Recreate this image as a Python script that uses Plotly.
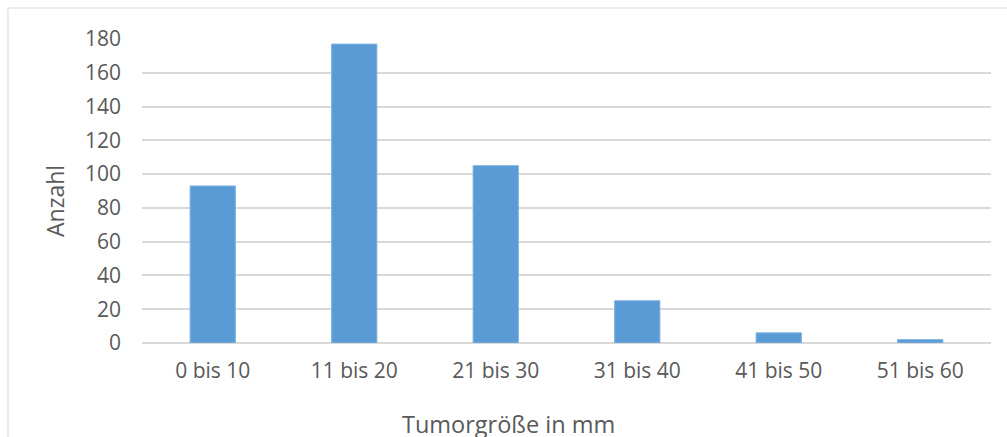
import plotly.graph_objects as go

# Tumour size classes and number of cases per class
categories = ["0 bis 10", "11 bis 20", "21 bis 30", "31 bis 40", "41 bis 50", "51 bis 60"]
counts = [93, 177, 105, 25, 6, 2]
y_ticks = [0, 20, 40, 60, 80, 100, 120, 140, 160, 180]

W, H = 1007, 437
ML, MR, MT, MB = 142, 16, 39, 94
PW, PH = W - ML - MR, H - MT - MB

TEXT = "#595959"
GRID = "#d9d9d9"
FONT = "Open Sans"


def px_x(px):
    return (px - ML) / PW


def px_y(py):
    return 1 - (py - MT) / PH


fig = go.Figure(
    go.Bar(
        x=categories,
        y=counts,
        marker=dict(color="#5b9bd5", line=dict(color="#7fb1e0", width=1)),
        width=0.32,
        hoverinfo="x+y",
    )
)

fig.update_layout(
    width=W,
    height=H,
    margin=dict(l=ML, r=MR, t=MT, b=MB),
    paper_bgcolor="white",
    plot_bgcolor="white",
    showlegend=False,
    font=dict(family=FONT, color=TEXT, size=20),
    bargap=0.68,
    xaxis=dict(
        showgrid=False,
        showline=False,
        zeroline=False,
        ticks="",
        ticklabelstandoff=13,
        tickfont=dict(size=21, color=TEXT),
    ),
    yaxis=dict(
        range=[0, 180],
        tickvals=y_ticks,
        showgrid=True,
        gridcolor=GRID,
        gridwidth=1.5,
        zeroline=True,
        zerolinecolor=GRID,
        zerolinewidth=1.5,
        showline=False,
        ticks="",
        ticklabelstandoff=20,
        tickfont=dict(size=21, color=TEXT),
    ),
    shapes=[
        # chart-area frame
        dict(
            type="rect",
            xref="paper",
            yref="paper",
            x0=px_x(8),
            x1=px_x(W + 20),
            y0=px_y(H + 20),
            y1=px_y(8),
            line=dict(color="#d9d9d9", width=1),
            fillcolor="rgba(0,0,0,0)",
            layer="below",
        )
    ],
    annotations=[
        dict(
            text="Anzahl",
            xref="paper",
            yref="paper",
            x=px_x(55),
            y=px_y(201),
            showarrow=False,
            textangle=-90,
            font=dict(size=23, color=TEXT),
            xanchor="center",
            yanchor="middle",
        ),
        dict(
            text="Tumorgröße in mm",
            xref="paper",
            yref="paper",
            x=px_x(508),
            y=px_y(424),
            showarrow=False,
            font=dict(size=23.5, color=TEXT),
            xanchor="center",
            yanchor="middle",
        ),
    ],
)

fig.write_html("out.html")
